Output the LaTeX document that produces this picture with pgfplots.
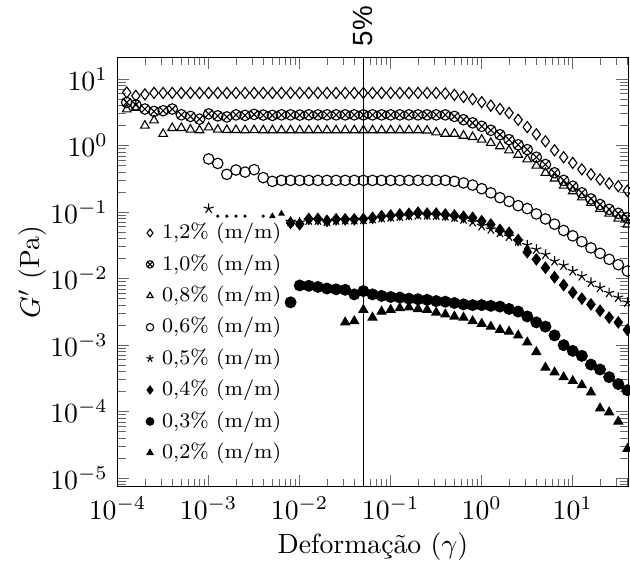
\documentclass[border=0pt]{standalone}
\usepackage{fontspec}
\usepackage{pgfplots}
\usepackage{pgfplotstable}
\pgfplotsset{compat=1.18}
\newfontfamily\labelsans{Liberation Sans}

% Storage modulus G' vs strain amplitude, one column per concentration (m/m)
\pgfplotstableread{
x         s12   s10   s08   s06   s05    s04    s03      s02
1.259e-4  6.3   4.46  3.5   nan   nan    nan    nan      nan
1.585e-4  5.6   4.1   3.7   nan   nan    nan    nan      nan
1.995e-4  5.9   3.55  2.0   nan   nan    nan    nan      nan
2.512e-4  6.2   3.27  2.4   nan   nan    nan    nan      nan
3.162e-4  6.2   3.35  1.5   nan   nan    nan    nan      nan
3.981e-4  6.2   3.55  1.84  nan   nan    nan    nan      nan
5.012e-4  6.2   2.91  1.84  nan   nan    nan    nan      nan
6.310e-4  6.2   2.75  1.74  nan   nan    nan    nan      nan
7.943e-4  6.2   2.5   1.70  nan   nan    nan    nan      nan
1.000e-3  6.2   3.0   1.88  0.63  0.113  nan    nan      nan
1.259e-3  6.2   2.8   1.74  0.54  nan    nan    nan      nan
1.585e-3  6.2   2.7   1.72  0.37  nan    nan    nan      nan
1.995e-3  6.2   2.9   1.72  0.43  nan    nan    nan      nan
2.512e-3  6.2   2.85  1.70  0.40  nan    nan    nan      nan
3.162e-3  6.2   2.95  1.71  0.435 nan    nan    nan      nan
3.981e-3  6.2   2.88  1.70  0.33  nan    nan    nan      nan
5.012e-3  6.2   2.85  1.70  0.29  nan    nan    nan      nan
6.310e-3  6.2   2.9   1.70  0.30  nan    nan    nan      nan
7.943e-3  6.2   2.9   1.70  0.30  0.072  0.069  0.0044   nan
1.000e-2  6.2   2.88  1.70  0.30  0.070  0.066  0.0079   nan
1.259e-2  6.2   2.9   1.70  0.30  0.075  0.079  0.0078   nan
1.585e-2  6.2   2.9   1.70  0.30  0.075  0.079  0.0075   nan
1.995e-2  6.2   2.9   1.70  0.30  0.072  0.074  0.0071   nan
2.512e-2  6.2   2.9   1.70  0.30  0.075  0.078  0.0069   nan
3.162e-2  6.2   2.9   1.70  0.30  0.076  0.078  0.0068   0.0022
3.981e-2  6.2   2.9   1.70  0.30  0.076  0.078  0.0058   0.0023
5.012e-2  6.2   2.9   1.70  0.30  0.077  0.079  0.0065   0.0034
6.310e-2  6.2   2.9   1.70  0.30  0.079  0.082  0.0058   0.0026
7.943e-2  6.2   2.9   1.70  0.30  0.082  0.087  0.0055   0.0032
0.1000    6.2   2.9   1.70  0.30  0.084  0.089  0.0053   0.0034
0.1259    6.2   2.9   1.70  0.30  0.086  0.092  0.0052   0.0036
0.1585    6.2   2.9   1.70  0.30  0.088  0.094  0.0050   0.0037
0.1995    6.2   2.9   1.70  0.30  0.090  0.098  0.0049   0.0035
0.2512    6.2   2.9   1.69  0.30  0.090  0.095  0.0048   0.0034
0.3162    6.2   2.9   1.58  0.30  0.089  0.095  0.0046   0.0031
0.3981    6.1   2.9   1.51  0.30  0.087  0.092  0.0045   0.0029
0.5012    5.8   2.75  1.51  0.29  0.083  0.089  0.0043   0.0027
0.6310    5.4   2.45  1.41  0.275 0.078  0.085  0.0041   0.0026
0.7943    5.0   2.2   1.35  0.255 0.071  0.082  0.0040   0.0023
1.000     4.5   1.95  1.23  0.225 0.062  0.073  0.0040   0.0021
1.259     4.0   1.7   1.10  0.195 0.055  0.065  0.0039   0.0019
1.585     3.55  1.46  0.98  0.165 0.049  0.054  0.0038   0.0017
1.995     3.1   1.23  0.85  0.145 0.043  0.049  0.0035   0.0016
2.512     2.45  1.03  0.73  0.125 0.0366 0.038  0.0032   0.0014
3.162     1.9   0.87  0.62  0.113 0.032  0.025  0.0027   0.0011
3.981     1.48  0.67  0.50  0.094 0.0275 0.0195 0.0022   0.00079
5.012     1.16  0.52  0.39  0.079 0.023  0.0146 0.0019   0.00046
6.310     0.85  0.39  0.32  0.066 0.0183 0.0105 0.0014   0.00039
7.943     0.67  0.30  0.25  0.053 0.0158 0.0080 0.0010   0.00033
10.00     0.55  0.245 0.206 0.044 0.0130 0.0062 0.00082  0.00029
12.59     0.44  0.195 0.167 0.036 0.0109 0.0050 0.00069  0.00025
15.85     0.37  0.158 0.138 0.029 0.0087 0.0041 0.00051  0.000195
19.95     0.31  0.13  0.112 0.024 0.0073 0.0033 0.00043  0.000112
25.12     0.27  0.11  0.095 0.0195 0.0061 0.0026 0.00033 0.000098
31.62     0.245 0.096 0.080 0.0162 0.0052 0.0022 0.00026 0.000071
39.81     0.21  0.082 0.065 0.013 0.0044 0.0017 0.00021  0.0000275
}\gprime

\begin{document}
\begin{tikzpicture}
\begin{axis}[
  xmode=log, ymode=log,
  scale only axis,
  width=184pt, height=154.8pt,
  xmin=1e-4, xmax=40.5,
  ymin=7.4e-6, ymax=21.2,
  xlabel={Deformação ($\gamma$)},
  ylabel={$G'$ (Pa)},
  xlabel shift=-2pt,
  ylabel shift=-5.5pt,
  tick style={line width=0.3pt, black!60},
  legend cell align=left,
  legend style={at={(axis description cs:0.055,0.622)}, anchor=north west,
    draw=none, fill=none, inner sep=0pt,
    font=\fontsize{7.5}{9}\selectfont,
    nodes={inner sep=1pt}, row sep=2.2pt,
    /tikz/every odd column/.append style={column sep=2pt}},
  legend image code/.code={\draw[#1,every mark/.append style={scale=0.7}] plot coordinates {(0cm,0cm)};},
]
\addplot[black, only marks, mark=diamond, mark size=2.0pt] table[x=x, y=s12] {\gprime};
\addlegendentry{1,2\% (m/m)}
\addplot[black, only marks, mark=otimes, mark size=1.9pt] table[x=x, y=s10] {\gprime};
\addlegendentry{1,0\% (m/m)}
\addplot[black, only marks, mark=triangle, mark size=1.8pt] table[x=x, y=s08] {\gprime};
\addlegendentry{0,8\% (m/m)}
\addplot[black, only marks, mark=o, mark size=1.9pt] table[x=x, y=s06] {\gprime};
\addlegendentry{0,6\% (m/m)}
\addplot[black, only marks, mark=star, mark size=1.9pt] table[x=x, y=s05] {\gprime};
\addlegendentry{0,5\% (m/m)}
\addplot[black, only marks, mark=diamond*, mark size=2.0pt] table[x=x, y=s04] {\gprime};
\addlegendentry{0,4\% (m/m)}
\addplot[black, only marks, mark=*, mark size=1.95pt] table[x=x, y=s03] {\gprime};
\addlegendentry{0,3\% (m/m)}
\addplot[black, only marks, mark=triangle*, mark size=1.8pt] table[x=x, y=s02] {\gprime};
\addlegendentry{0,2\% (m/m)}
% low-strain readings drawn with reduced markers
\addplot[black, only marks, mark=*, mark size=0.35pt, forget plot] coordinates {
  (1.259e-3,0.087) (1.585e-3,0.087) (1.995e-3,0.087) (2.512e-3,0.087) (3.981e-3,0.087)};
\addplot[black, only marks, mark=triangle*, mark size=1pt, forget plot] coordinates {
  (5.012e-3,0.087) (6.310e-3,0.095)};
% 5% strain reference line
\addplot[black, line width=0.4pt, forget plot] coordinates {(0.05,1e-6) (0.05,100)};
\coordinate (p5) at (axis cs:0.05,21.2);
\end{axis}
\node[rotate=90, anchor=west, inner sep=0pt, font=\labelsans] at ([yshift=3.8pt]p5) {5\%};
\pgfresetboundingbox
\path[use as bounding box] (current axis.south west) ++(-42.4pt,-26.6pt)
  rectangle ([shift={(0.7pt,20.7pt)}]current axis.north east);
\end{tikzpicture}
\end{document}
